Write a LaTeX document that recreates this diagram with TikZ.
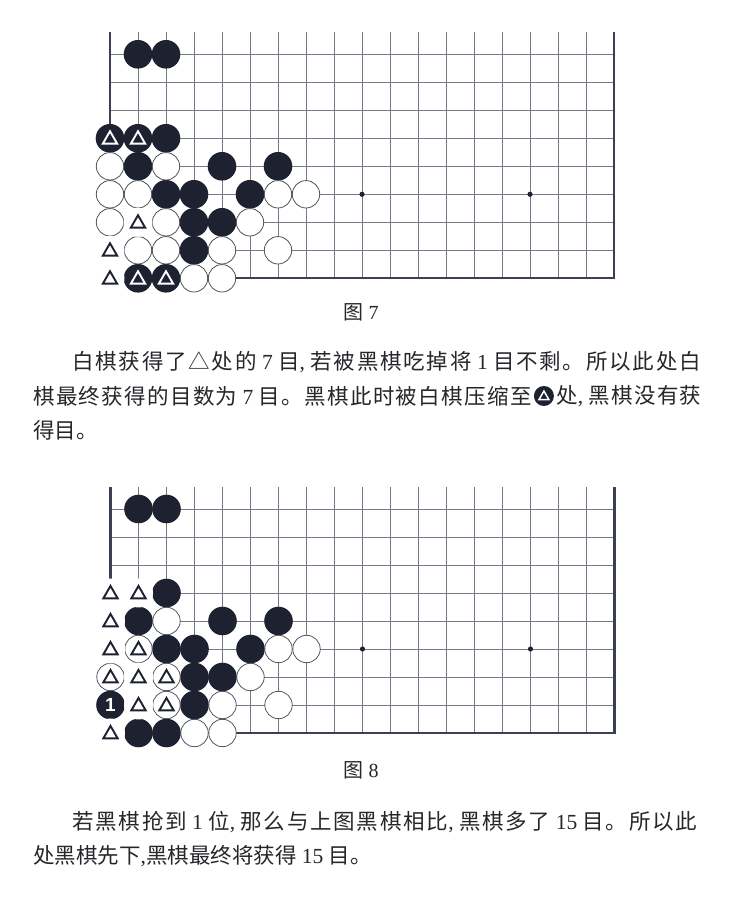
\documentclass[tikz,border=0pt]{standalone}
\usepackage{fontspec}
\setmainfont{Liberation Serif}
\newfontfamily\cjk{Noto Sans CJK SC}
\newfontfamily\cjkwide[LetterSpace=8.3]{Noto Sans CJK SC}
\newfontfamily\cjkmid[LetterSpace=6.2]{Noto Sans CJK SC}
\newfontfamily\numsans{Liberation Sans}
\usetikzlibrary{shapes.geometric,positioning}
\definecolor{stoneink}{HTML}{1D2130}
\definecolor{gridgray}{HTML}{737A87}
\definecolor{edgeink}{HTML}{3B4152}
\definecolor{textink}{HTML}{26262B}
\let\zhfont\cjk
\newcommand{\zh}[1]{{\zhfont #1}}
\newcommand{\gobangrid}{%
  \foreach \cx in {1,...,17} \draw[gridline] (\cx,0) -- (\cx,8.8);
  \foreach \ry in {1,...,8} \draw[gridline] (0,\ry) -- (18,\ry);
  \draw[edgeline] (0,8.8) -- (0,0) -- (18,0) -- (18,8.8);
  \foreach \cx in {3,9,15} \fill[stoneink] (\cx,3) circle[radius=2.6pt];}

\begin{document}
\begin{tikzpicture}[x=1pt, y=1pt,
    gridline/.style={draw=gridgray, line width=0.8pt},
    edgeline/.style={draw=edgeink, line width=2.4pt},
    bstone/.style={circle, fill=stoneink, minimum size=28.6pt, inner sep=0pt},
    wstone/.style={circle, draw=gridgray!70!black, fill=white, line width=0.8pt,
                   minimum size=27.4pt, inner sep=0pt},
    blank/.style={circle, fill=white, minimum size=29pt, inner sep=0pt},
    tri/.style={regular polygon, regular polygon sides=3, minimum size=16.5pt,
                inner sep=0pt, line width=1.9pt, yshift=-1.2pt},
    caption/.style={font=\fontsize{20}{24}\selectfont, text=textink},
    para/.style={font=\fontsize{21.5}{26}\selectfont, text=textink, anchor=west,
                 inner sep=0pt},
    fullline/.style={para, font=\fontsize{21.5}{26}\selectfont\let\zhfont\cjkwide},
    midline/.style={para, font=\fontsize{21.5}{26}\selectfont\let\zhfont\cjkmid}
  ]
  \path[use as bounding box, fill=white] (0,0) rectangle (744,897);

  % figure 7
  \begin{scope}[shift={(110,618.7)}, x=28pt, y=28pt]
    \gobangrid
    \foreach \cx/\ry in {1/8,2/8,0/5,1/5,2/5,1/4,4/4,6/4,2/3,3/3,5/3,3/2,4/2,3/1,1/0,2/0}
      \node[bstone] (s7b-\cx-\ry) at (\cx,\ry) {};
    \foreach \cx/\ry in {0/4,2/4,0/3,1/3,6/3,7/3,0/2,2/2,5/2,1/1,2/1,4/1,6/1,3/0,4/0}
      \node[wstone] (s7w-\cx-\ry) at (\cx,\ry) {};
    \foreach \cx/\ry in {1/2,0/1,0/0}
      \node[blank] (s7e-\cx-\ry) at (\cx,\ry) {};
    \foreach \cx/\ry in {1/2,0/1,0/0}
      \node[tri, draw=stoneink] (s7t-\cx-\ry) at (\cx,\ry) {};
    \foreach \cx/\ry in {0/5,1/5,1/0,2/0}
      \node[tri, draw=white] (s7t-\cx-\ry) at (\cx,\ry) {};
  \end{scope}

  \node[caption] (cap7) at (361,585) {\zh{图} 7};

  \node[fullline] (p7l1) at (72,535)
    {\zh{白棋获得了△处的} 7 \zh{目}, \zh{若被黑棋吃掉将} 1 \zh{目不剩。所以此处白}};
  \node[midline] (p7l2a) at (33,501)
    {\zh{棋最终获得的目数为} 7 \zh{目。黑棋此时被白棋压缩至}};
  \node[circle, fill=stoneink, minimum size=20pt, inner sep=0pt, right=2pt of p7l2a] (p7icon) {};
  \node[tri, draw=white, minimum size=11.5pt, line width=1.5pt, yshift=0.4pt] (p7icontri) at (p7icon) {};
  \node[midline, right=2pt of p7icon] (p7l2b) {\zh{处}, \zh{黑棋没有获}};
  \node[para] (p7l3) at (33,467) {\zh{得目。}};

  % figure 8
  \begin{scope}[shift={(110.5,164)}, x=28pt, y=28pt]
    \gobangrid
    \foreach \cx/\ry in {1/8,2/8,2/5,1/4,4/4,6/4,2/3,3/3,5/3,3/2,4/2,3/1,1/0,2/0}
      \node[bstone] (s8b-\cx-\ry) at (\cx,\ry) {};
    \node[bstone, text=white, font=\numsans\bfseries\fontsize{19}{19}\selectfont]
      (s8b-0-1) at (0,1) {1};
    \foreach \cx/\ry in {2/4,1/3,6/3,7/3,0/2,2/2,5/2,2/1,4/1,6/1,3/0,4/0}
      \node[wstone] (s8w-\cx-\ry) at (\cx,\ry) {};
    \foreach \cx/\ry in {0/5,1/5,0/4,0/3,1/2,1/1,0/0}
      \node[blank] (s8e-\cx-\ry) at (\cx,\ry) {};
    \foreach \cx/\ry in {0/5,1/5,0/4,0/3,1/2,1/1,0/0,1/3,0/2,2/2,2/1}
      \node[tri, draw=stoneink] (s8t-\cx-\ry) at (\cx,\ry) {};
  \end{scope}

  \node[caption] (cap8) at (361,127) {\zh{图} 8};

  \node[fullline] (p8l1) at (72,75)
    {\zh{若黑棋抢到} 1 \zh{位}, \zh{那么与上图黑棋相比}, \zh{黑棋多了} 15 \zh{目。所以此}};
  \node[para] (p8l2) at (33,41) {\zh{处黑棋先下},\zh{黑棋最终将获得} 15 \zh{目。}};
\end{tikzpicture}
\end{document}
